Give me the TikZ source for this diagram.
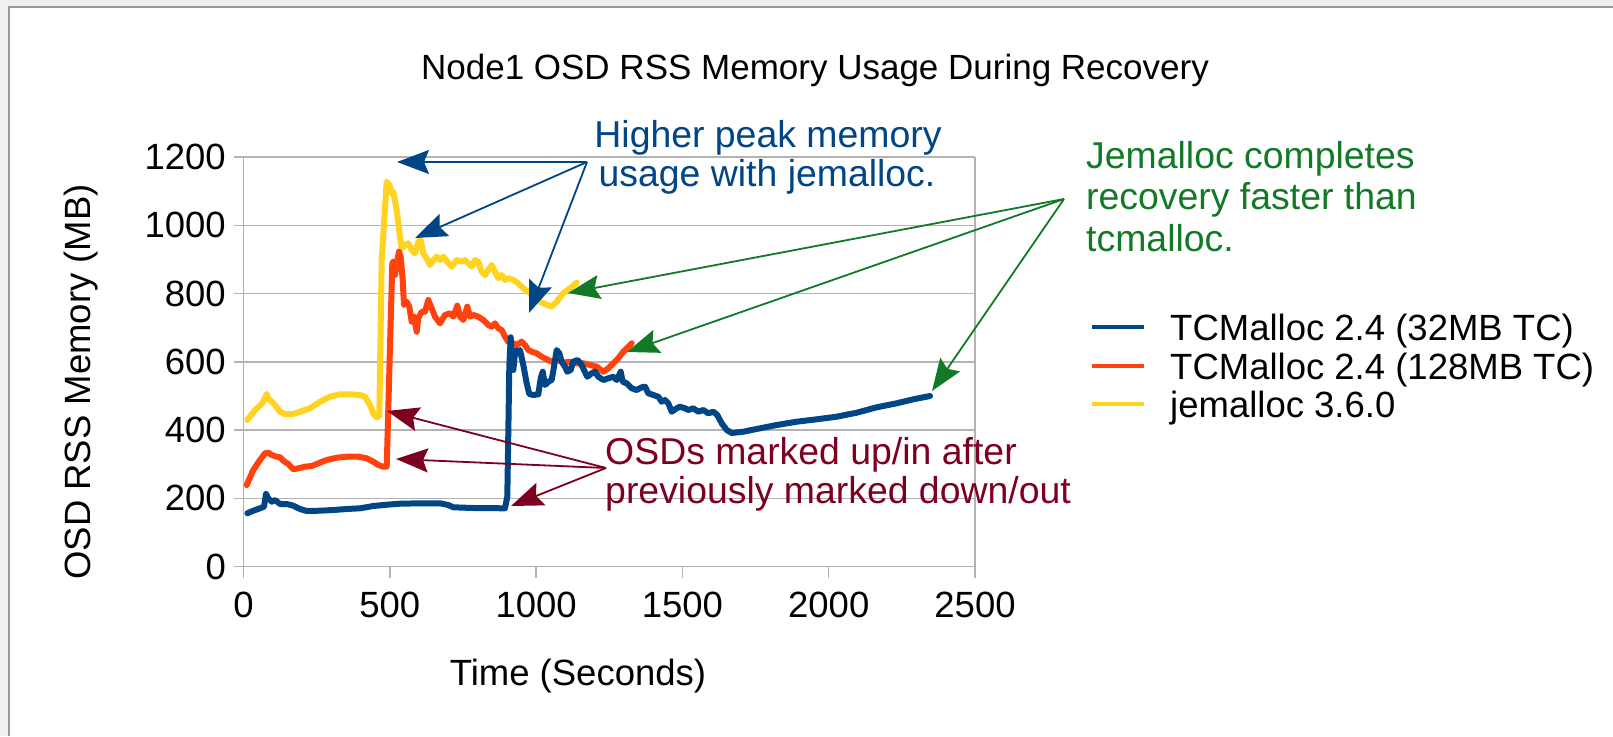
\documentclass[tikz,border=0pt]{standalone}
\usepackage{fontspec}
\setmainfont{Liberation Sans}
\usetikzlibrary{arrows.meta}
\definecolor{cblue}{HTML}{004586}
\definecolor{cred}{HTML}{FF420E}
\definecolor{cyel}{HTML}{FFD320}
\definecolor{cdred}{HTML}{7E0021}
\definecolor{cgreen}{HTML}{127A26}
\definecolor{cgrid}{HTML}{B3B3B3}
\definecolor{cframe}{HTML}{999999}
\definecolor{cbg}{HTML}{F0F0F0}
\begin{document}
\begin{tikzpicture}[x=1pt,y=-1pt,
  txt/.style={inner sep=0pt, font=\fontsize{36.5}{40}\selectfont},
  note/.style={inner sep=0pt, font=\fontsize{37.4}{40}\selectfont},
  series/.style={line width=6pt, line join=round, line cap=round},
  callout/.style={line width=1.8pt, -{Stealth[length=32pt,width=24pt,inset=5pt]}},
  gridline/.style={cgrid, line width=1.5pt},
  legline/.style={line width=4.5pt}]
\useasboundingbox (0,0) rectangle (1613,736);
\fill[cbg] (0,0) rectangle (1613,736);
\fill[white] (9.5,7) rectangle (1613,736);
\draw[cframe, line width=2.5pt] (9.2,736) -- (9.2,6.8) -- (1613,6.8);

% title
\node[txt, anchor=base, font=\fontsize{35}{40}\selectfont] (title) at (815,79) {Node1 OSD RSS Memory Usage During Recovery};

% grid and axes
\foreach \k in {0,...,6} \draw[gridline] (233.5,{566.6-68.27*\k}) -- (975,{566.6-68.27*\k});
\draw[gridline] (243.5,156.7) -- (243.5,577);
\draw[gridline] (975,156.7) -- (975,577);
\foreach \t in {0,500,...,2500} \draw[gridline] ({243.5+0.2926*\t},566.6) -- ++(0,11);

% tick labels
\foreach \k/\v in {0/0,1/200,2/400,3/600,4/800,5/1000,6/1200}
  \node[txt, anchor=east] (yl\k) at (226,{566.6-68.27*\k}) {\v};
\foreach \t [count=\i] in {0,500,1000,1500,2000,2500}
  \node[txt, anchor=base] (xl\i) at ({243.5+0.2926*\t},617) {\t};

% axis titles
\node[txt, anchor=base] (xtitle) at (578,685) {Time (Seconds)};
\node[txt, rotate=90, anchor=base] (ytitle) at (90,382) {OSD RSS Memory (MB)};

% series: jemalloc
\draw[series, cyel] plot coordinates {(247.3,420) (255,410) (261.7,404) (265,398.3) (266.7,394) (268.3,398.3) (271.7,401.7) (275,405) (280,411.7) (285,414) (293.3,414) (300,411.7) (310,408.3) (320,401.7) (330,396.7) (340,394.3) (350,394.3) (360,395) (365,396.7) (370,405) (373.3,413.3) (376.7,417.3) (379.3,416) (381.7,260) (386.7,181.7) (389.3,185) (391.7,193.3) (393.3,191.7) (396.7,210) (399.3,231.7) (401.7,248.3) (405,245) (408.3,243.3) (411.7,250) (415,253.3) (418.3,241.7) (420.7,240) (423.3,253.3) (426.7,258.3) (430,265) (433.3,260) (436.7,256.7) (440,260) (443.3,256.7) (447.3,261.7) (451.7,266.7) (456.7,260) (461.7,261.7) (465,260) (468.3,263.3) (471.7,266.7) (475,260) (478.3,261.7) (481.7,271.7) (485,275) (488.3,270) (491.7,265) (495,271.7) (498.3,278.3) (501.7,275) (505,280) (508.3,278.3) (513.3,280) (518.3,283.3) (523.3,288.3) (528.3,291.7) (533.3,295) (540,301.7) (545,304) (551.7,306.7) (556.7,301.7) (563.3,293.3) (570,288.3) (576.7,282.7)};

% series: TCMalloc 128MB
\draw[series, cred] plot coordinates {(246.7,485) (253.3,470) (260,460) (265,453.3) (268.3,452.7) (271.7,455) (276.7,456.7) (280,457.3) (283.3,460.7) (288.3,464) (293.3,469.3) (298.3,468.3) (305,466.7) (311.7,466) (318.3,463.3) (326.7,460) (336.7,457.7) (346.7,456.7) (358.3,456.7) (366.7,458.3) (373.3,461.7) (378.3,465) (383.3,466.7) (386.7,466.7) (392.3,263.3) (393.3,261.7) (395,275) (397.3,260) (399,251.7) (400.7,256.7) (402.7,280) (404,305) (406.7,301.7) (409.3,306.7) (411.7,321.7) (414,316.7) (416.7,331.7) (418.3,318.3) (421.7,311.7) (425,311.7) (428.3,300) (431.7,308.3) (435,316.7) (440,323.3) (445,315) (450,313.3) (453.3,316.7) (457.3,305.7) (460,316.7) (463.3,320) (467.3,306.7) (470,316.7) (473.3,315) (478.3,316.7) (483.3,320) (488.3,325) (491.7,326.7) (495,323.3) (498.3,328.3) (501.7,330) (505,336.7) (508.3,341.7) (513.3,343.3) (516.7,345) (521.7,341.7) (525,345) (528.3,350) (531.7,351.7) (536.7,353.3) (541.7,356.7) (546.7,359.3) (551.7,361.7) (558.3,360) (563.3,362.7) (570,361.7) (576.7,363.3) (583.3,363.3) (590,365) (596.7,366.7) (603.3,371.7) (608.3,368.3) (613.3,363.3) (618.3,358.3) (623.3,351.7) (631.7,343.3)};

% series: TCMalloc 32MB
\draw[series, cblue] plot coordinates {(247.3,513.3) (253.3,510.7) (260,508.3) (264,506.7) (266,494) (268.3,498.3) (271.7,501.7) (275,500) (280,504) (286.7,504) (293.3,505.7) (300,509) (306.7,511) (320,510.7) (333.3,510) (346.7,509) (360,508.3) (373.3,506) (386.7,504.7) (400,503.7) (420,503.3) (440,503.3) (448.3,505) (453.3,507.3) (473.3,508) (505,508.3) (507.3,496.7) (508.3,433.3) (509.3,366.7) (510.7,337.3) (512.3,366.7) (513.3,370) (515,353.3) (516.7,350) (518.3,353.3) (520,350) (523.3,365) (526.7,383.3) (529.3,394) (533.3,395) (538.3,394.3) (540.7,378.3) (542.7,371.7) (545,385) (548.3,381.7) (551.7,380) (554,366.7) (556.7,350) (559.3,353.3) (561.7,361.7) (565,366.7) (567.3,371.7) (570.7,370) (573.3,361.7) (577.3,360) (580.7,363.3) (584,370) (587.3,376.7) (591.7,373.3) (595,371.7) (598.3,376.7) (603.3,380) (608.3,378.3) (613.3,376.7) (616.7,380) (620.7,371.7) (622.7,381.7) (626.7,383.3) (631.7,388.3) (636.7,390) (641.7,387.3) (645,386.7) (648.3,393.3) (653.3,395) (658.3,396.7) (661.7,401.7) (665,400) (668.3,403.3) (671.7,411.7) (676.7,408.3) (680,406.7) (685,408.3) (688.3,410) (693.3,408.3) (698.3,411.7) (703.3,410) (708.3,413.3) (713.3,411.7) (717.3,415) (721.7,423.3) (726.7,430) (731.7,433) (743.3,431.7) (760,428.3) (776.7,425) (796.7,421.7) (816.7,419.3) (836.7,416.7) (856.7,412.7) (876.7,407.3) (896.7,403.3) (913.3,399.3) (930,396)};

% legend
\draw[legline, cblue] (1092,327) -- (1144,327);
\node[txt, anchor=base west] (leg1) at (1170,340) {TCMalloc 2.4 (32MB TC)};
\draw[legline, cred] (1092,366) -- (1144,366);
\node[txt, anchor=base west] (leg2) at (1170,379) {TCMalloc 2.4 (128MB TC)};
\draw[legline, cyel] (1092,404) -- (1144,404);
\node[txt, anchor=base west] (leg3) at (1170,417) {jemalloc 3.6.0};

% blue annotation
\node[note, anchor=base, text=cblue] (bt1) at (768,147) {Higher peak memory};
\node[note, anchor=base, text=cblue] (bt2) at (767,186) {usage with jemalloc.};
\coordinate (bsrc) at (587,162);
\coordinate (bA) at (397,162);
\coordinate (bB) at (415,238);
\coordinate (bC) at (529,313);
\draw[callout, cblue] (bsrc) -- (bA);
\draw[callout, cblue] (bsrc) -- (bB);
\draw[callout, cblue] (bsrc) -- (bC);

% green annotation
\node[note, anchor=base west, text=cgreen] (gt1) at (1086,168) {Jemalloc completes};
\node[note, anchor=base west, text=cgreen] (gt2) at (1086,209) {recovery faster than};
\node[note, anchor=base west, text=cgreen] (gt3) at (1086,251) {tcmalloc.};
\coordinate (gsrc) at (1064,199);
\coordinate (gA) at (568,293);
\coordinate (gB) at (627,352);
\coordinate (gC) at (932,391);
\draw[callout, cgreen] (gsrc) -- (gA);
\draw[callout, cgreen] (gsrc) -- (gB);
\draw[callout, cgreen] (gsrc) -- (gC);

% dark red annotation
\node[note, anchor=base west, text=cdred] (rt1) at (605,464) {OSDs marked up/in after};
\node[note, anchor=base west, text=cdred] (rt2) at (605,503) {previously marked down/out};
\coordinate (rsrc) at (606,468);
\coordinate (rA) at (387,411);
\coordinate (rB) at (396,459);
\coordinate (rC) at (511,506);
\draw[callout, cdred] (rsrc) -- (rA);
\draw[callout, cdred] (rsrc) -- (rB);
\draw[callout, cdred] (rsrc) -- (rC);
\end{tikzpicture}
\end{document}
